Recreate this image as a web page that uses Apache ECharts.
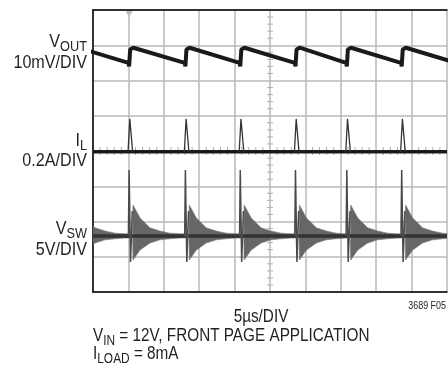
<!DOCTYPE html>
<html>
<head>
<meta charset="utf-8">
<script src="https://cdn.jsdelivr.net/npm/echarts@6/dist/echarts.min.js"></script>
<style>
html, body { margin: 0; padding: 0; background: #fff; }
#chart { width: 448px; height: 371px; }
</style>
</head>
<body>
<div id="chart"></div>
<script>
// scope screen, units are divisions (x: 0..10, y: 0..8 from bottom)
const switchTimes = [-0.53, 1.02, 2.61, 4.16, 5.72, 7.17, 8.72, 10.28];

// VOUT sawtooth around each switching edge
const voutDt = [-0.02, 0, 0.03, 0.12];
const voutV = [6.5, 6.4, 6.88, 6.93];

// inductor current spike
const ilBase = 3.98;
const ilDt = [-0.03, 0.02, 0.1];
const ilV = [3.98, 4.91, 3.98];

// switch node: edge + ringing envelope
const vswBase = 1.59;
const vswSpikeDt = [-0.02, 0, 0.04, 0.09];
const vswSpikeV = [1.59, 3.46, 0.85, 2.3];
const vswEnvDt = [0.1, 0.11, 0.31, 0.59, 0.87, 1.15, 1.43];
const vswEnvHigh = [1.63, 2.47, 2.1, 1.82, 1.73, 1.67, 1.65];
const vswEnvLow = [1.55, 0.91, 1.19, 1.39, 1.48, 1.51, 1.53];
const vswTailHigh = 1.65, vswTailLow = 1.53;

const font = "'Liberation Sans',Arial,sans-serif";
const txt = "#231f20";
const sx = 0.85; // condensed look

// build traces
let vout = [], ilSpikes = [], vswSpikes = [], envX = [], envLow = [], envHigh = [];
switchTimes.forEach((t, i) => {
  voutDt.forEach((d, k) => vout.push([t + d, voutV[k]]));
  ilDt.forEach((d, k) => ilSpikes.push([t + d, ilV[k]]));
  ilSpikes.push([t + 0.1, null]);
  vswSpikeDt.forEach((d, k) => vswSpikes.push([t + d, vswSpikeV[k]]));
  vswSpikes.push([t + 0.09, null]);
  const next = switchTimes[i + 1] !== undefined ? switchTimes[i + 1] : t + 1.55;
  vswEnvDt.forEach((d, k) => {
    if (t + d < next - 0.04) {
      envX.push(t + d); envLow.push(vswEnvLow[k]); envHigh.push(vswEnvHigh[k]);
    }
  });
  envX.push(next - 0.03); envLow.push(vswTailLow); envHigh.push(vswTailHigh);
});

// crosshair minor ticks
const ticks = [];
for (let k = 1; k < 50; k++) if (k % 5) ticks.push([k / 5, 4, 1]);
for (let k = 1; k < 40; k++) if (k % 5) ticks.push([5, k / 5, 0]);

const chart = echarts.init(document.getElementById("chart"));

function rich(x, y, parts, size, subSize, align) {
  let text = parts.map((p, i) => (i % 2 ? "{s|" : "{m|") + p + "}").join("");
  return {
    type: "text", x: x, y: y, z: 10, scaleX: sx,
    style: {
      text: text, align: align, verticalAlign: "middle",
      rich: {
        m: { fontFamily: font, fontSize: size, fill: txt, lineHeight: 24 },
        s: { fontFamily: font, fontSize: subSize, fill: txt, lineHeight: 14, verticalAlign: "bottom" }
      }
    }
  };
}
function plain(x, y, text, size, align) {
  return {
    type: "text", x: x, y: y, z: 10, scaleX: sx,
    style: { text: text, fontFamily: font, fontSize: size, fill: txt, align: align, verticalAlign: "middle" }
  };
}

const option = {
  animation: false,
  grid: { left: 93, top: 10, right: 1, bottom: 79 },
  xAxis: [
    {
      type: "value", min: 0, max: 10, interval: 1,
      axisLine: { lineStyle: { color: "#000", width: 1.5 } },
      axisTick: { show: false }, axisLabel: { show: false },
      splitLine: { lineStyle: { color: "#b8b8b8", width: 1.5 } }
    },
    {
      type: "value", position: "top", min: 0, max: 10, interval: 1,
      axisLine: { show: true, lineStyle: { color: "#000", width: 1.5 } },
      axisTick: { show: false }, axisLabel: { show: false }, splitLine: { show: false }
    }
  ],
  yAxis: {
    type: "value", min: 0, max: 8, interval: 1,
    axisLine: { show: true, lineStyle: { color: "#000", width: 1.5 } },
    axisTick: { show: false }, axisLabel: { show: false },
    splitLine: { lineStyle: { color: "#b8b8b8", width: 1.5 } }
  },
  series: [
    {
      type: "custom", data: ticks, z: 1,
      renderItem: (params, api) => {
        const p = api.coord([api.value(0), api.value(1)]);
        const h = api.value(2) === 1;
        return {
          type: "line",
          shape: h ? { x1: p[0], y1: p[1] - 4, x2: p[0], y2: p[1] + 4 }
                   : { x1: p[0] - 3, y1: p[1], x2: p[0] + 3, y2: p[1] },
          style: { stroke: "#b0b0b0", lineWidth: 1 }
        };
      }
    },
    {
      // ringing envelope of the switch node
      type: "custom", data: [[0]], z: 2,
      renderItem: (params, api) => {
        const top = envX.map((x, i) => api.coord([x, envHigh[i]]));
        const bot = envX.map((x, i) => api.coord([x, envLow[i]])).reverse();
        const cs = params.coordSys;
        return {
          type: "polygon",
          shape: { points: top.concat(bot) },
          style: { fill: "#666", stroke: "#777", lineWidth: 0.6 },
          clipPath: { type: "rect", shape: { x: cs.x, y: cs.y, width: cs.width, height: cs.height } }
        };
      }
    },
    {
      type: "line", symbol: "none", z: 3,
      data: [[0, vswBase], [10, vswBase]],
      lineStyle: { width: 3.5, color: "#333" }
    },
    {
      type: "line", symbol: "none", z: 4, connectNulls: false,
      data: vswSpikes,
      lineStyle: { width: 1.5, color: "#4a4a4a" }
    },
    {
      type: "line", symbol: "none", z: 4,
      data: [[0, ilBase], [10, ilBase]],
      lineStyle: { width: 3.5, color: "#1a1a1a" }
    },
    {
      type: "line", symbol: "none", z: 4, connectNulls: false,
      data: ilSpikes,
      lineStyle: { width: 1.3, color: "#333" },
      markPoint: {
        silent: true,
        data: [{ coord: [switchTimes[1], 8], symbol: "triangle", symbolRotate: 180, symbolSize: [7, 6], symbolOffset: [0, 4] }],
        itemStyle: { color: "#bdbdbd" }, label: { show: false }
      }
    },
    {
      type: "line", symbol: "none", z: 5,
      data: vout,
      lineStyle: { width: 4, color: "#1a1a1a" }
    }
  ],
  graphic: [
    rich(87, 42, ["V", "OUT"], 19, 15, "right"),
    plain(87, 63, "10mV/DIV", 19, "right"),
    rich(87, 141, ["I", "L"], 19, 15, "right"),
    plain(87, 161, "0.2A/DIV", 19, "right"),
    rich(87, 229, ["V", "SW"], 19, 15, "right"),
    plain(87, 250, "5V/DIV", 19, "right"),
    plain(446, 306, "3689 F05", 10.5, "right"),
    plain(261, 317, "5µs/DIV", 18, "center"),
    rich(93, 336, ["V", "IN", " = 12V, FRONT PAGE APPLICATION"], 18, 14, "left"),
    rich(93, 354, ["I", "LOAD", " = 8mA"], 18, 14, "left")
  ]
};
chart.setOption(option);
</script>
</body>
</html>
